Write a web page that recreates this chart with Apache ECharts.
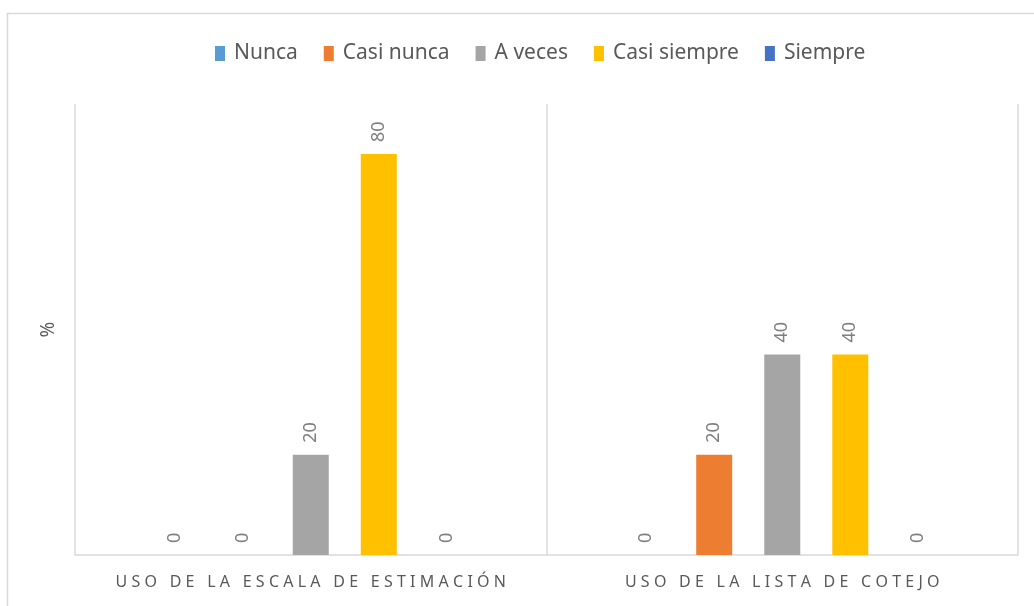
<!DOCTYPE html>
<html>
<head>
<meta charset="utf-8">
<script src="https://cdn.jsdelivr.net/npm/echarts@6/dist/echarts.min.js"></script>
<style>
  html, body { margin: 0; padding: 0; background: #fff; }
  #chart { width: 1034px; height: 606px; }
</style>
</head>
<body>
<div id="chart"></div>
<script>
var categories = ['USO DE LA ESCALA DE ESTIMACIÓN', 'USO DE LA LISTA DE COTEJO'];
var seriesNames = ['Nunca', 'Casi nunca', 'A veces', 'Casi siempre', 'Siempre'];
var nunca = [0, 0];
var casiNunca = [0, 20];
var aVeces = [20, 40];
var casiSiempre = [80, 40];
var siempre = [0, 0];
var colors = ['#5B9BD5', '#ED7D31', '#A5A5A5', '#FFC000', '#4472C4'];

var font = '"Noto Sans", sans-serif';
var allValues = [nunca, casiNunca, aVeces, casiSiempre, siempre];

var series = [];
for (var i = 0; i < seriesNames.length; i++) {
    series.push({
        name: seriesNames[i],
        type: 'bar',
        data: allValues[i],
        barWidth: 36,
        barGap: '89%',
        itemStyle: { color: colors[i] },
        label: {
            show: true,
            position: 'top',
            rotate: 90,
            align: 'left',
            verticalAlign: 'middle',
            distance: 12,
            color: '#7F7F7F',
            fontSize: 18,
            fontFamily: font
        }
    });
}

var myChart = echarts.init(document.getElementById('chart'));
var option = {
    animation: false,
    color: colors,
    graphic: [{
        type: 'rect',
        shape: { x: 7.5, y: 13.5, width: 1100, height: 700 },
        style: { fill: 'none', stroke: '#D9D9D9', lineWidth: 1.5 },
        silent: true
    }],
    legend: {
        top: 38,
        left: 210,
        itemWidth: 10,
        itemHeight: 15,
        itemGap: 26,
        icon: 'rect',
        textStyle: { color: '#595959', fontSize: 21, fontFamily: font, padding: [0, 0, 0, 4] }
    },
    grid: { left: 75, right: 16, top: 104, bottom: 51, containLabel: false },
    xAxis: {
        type: 'category',
        data: categories,
        axisLine: { lineStyle: { color: '#D9D9D9', width: 1.5 } },
        axisTick: { show: false },
        splitLine: { show: true, interval: 0, lineStyle: { color: '#D9D9D9', width: 1.5 } },
        axisLabel: {
            interval: 0,
            color: '#595959',
            fontSize: 16,
            fontFamily: font,
            margin: 19,
            formatter: function (v) { return v.split('').join('\u2009\u200A'); }
        }
    },
    yAxis: {
        type: 'value',
        min: 0,
        max: 90,
        interval: 10,
        name: '%',
        nameLocation: 'middle',
        nameGap: 17,
        nameRotate: 90,
        nameTextStyle: { color: '#595959', fontSize: 19, fontFamily: font },
        axisLine: { show: false },
        axisTick: { show: false },
        axisLabel: { show: false },
        splitLine: { show: false }
    },
    series: series
};
myChart.setOption(option);
</script>
</body>
</html>
